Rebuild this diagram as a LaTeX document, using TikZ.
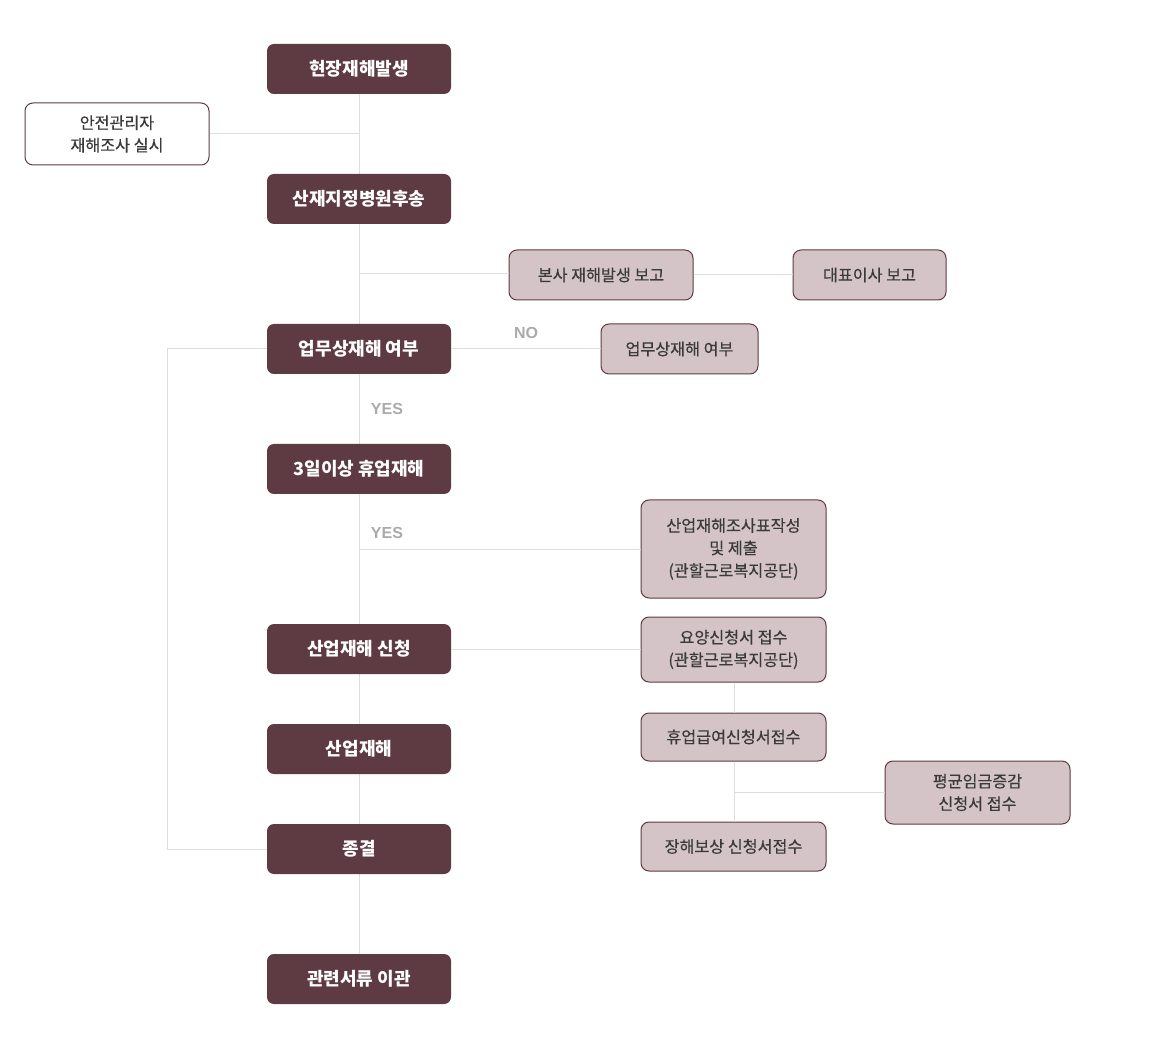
\documentclass[tikz,border=0pt]{standalone}
\usepackage{fontspec}
\newfontfamily\kr{Noto Sans CJK KR}
\newfontfamily\krmed[FakeBold=0.35]{Noto Sans CJK KR}
\newfontfamily\krsans{Liberation Sans}
\definecolor{darkbox}{HTML}{5E3B42}
\definecolor{lightbox}{HTML}{D4C4C7}
\definecolor{linegray}{HTML}{DDDDDD}
\definecolor{labgray}{HTML}{AAAAAA}
\definecolor{txt}{HTML}{3A3A3A}
\begin{document}
\begin{tikzpicture}[x=1pt,y=-1pt,
  mainbox/.style={rectangle,rounded corners=7pt,fill=darkbox,draw=none,text=white,
    minimum width=184pt,minimum height=50pt,inner sep=0pt,
    font=\kr\bfseries\fontsize{18}{22}\selectfont},
  subbox/.style={rectangle,rounded corners=8pt,fill=lightbox,draw=darkbox,line width=1pt,text=txt,
    minimum height=50pt,inner sep=0pt,align=center,
    font=\krmed\fontsize{16.2}{22.5}\selectfont},
  whitebox/.style={subbox,fill=white},
  conn/.style={draw=linegray,line width=1pt},
  yn/.style={text=labgray,font=\krsans\bfseries\fontsize{16}{18}\selectfont,inner sep=0pt}]
\useasboundingbox (0,0) rectangle (1160,1048);
\coordinate (top) at (359,94);
\coordinate (bot) at (359,954);
\coordinate (j1) at (359,134);
\coordinate (j2) at (359,274);
\coordinate (j3) at (359,549);
\coordinate (l1) at (167,349);
\coordinate (l2) at (167,849);
\coordinate (j4) at (734,792);
\draw[conn] (top) -- (bot);
% nodes
\node[mainbox] (a) at (359,69) {현장재해발생};
\node[mainbox] (b) at (359,199) {산재지정병원후송};
\node[mainbox] (c) at (359,349) {업무상재해 여부};
\node[mainbox] (d) at (359,469) {3일이상 휴업재해};
\node[mainbox] (e) at (359,649) {산업재해 신청};
\node[mainbox] (f) at (359,749) {산업재해};
\node[mainbox] (g) at (359,849) {종결};
\node[mainbox] (h) at (359,979) {관련서류 이관};
\node[whitebox,minimum width=184pt,minimum height=62pt] (w) at (117,134) {안전관리자\\재해조사 실시};
\node[subbox,minimum width=184pt] (s1) at (601,275) {본사 재해발생 보고};
\node[subbox,minimum width=153pt] (s2) at (869.5,275) {대표이사 보고};
\node[subbox,minimum width=157pt] (s3) at (679.5,349) {업무상재해 여부};
\node[subbox,minimum width=185pt,minimum height=98pt] (s4) at (733.5,549) {산업재해조사표작성\\및 제출\\(관할근로복지공단)};
\node[subbox,minimum width=185pt,minimum height=65pt] (s5) at (733.5,649.5) {요양신청서 접수\\(관할근로복지공단)};
\node[subbox,minimum width=185pt,minimum height=48pt] (s6) at (733.5,737) {휴업급여신청서접수};
\node[subbox,minimum width=185pt,minimum height=63pt] (s7) at (977.5,792.5) {평균임금증감\\신청서 접수};
\node[subbox,minimum width=185pt,minimum height=49pt] (s8) at (733.5,846.5) {장해보상 신청서접수};
% connectors
\draw[conn] (w.east) -- (j1);
\draw[conn] (j2) -- (j2 -| s1.west);
\draw[conn] (s1.east) -- (s2.west);
\draw[conn] (c.east) -- (s3.west);
\draw[conn] (c.west) -- (l1) -- (l2) -- (g.west);
\draw[conn] (j3) -- (s4.west);
\draw[conn] (e.east) -- (e.east -| s5.west);
\draw[conn] (s5.south -| j4) -- (s6.north -| j4);
\draw[conn] (s6.south -| j4) -- (s8.north -| j4);
\draw[conn] (j4) -- (j4 -| s7.west);
% labels
\node[yn] (no) at (526,333) {NO};
\node[yn] (y1) at (387,409) {YES};
\node[yn] (y2) at (387,533) {YES};
\end{tikzpicture}
\end{document}
